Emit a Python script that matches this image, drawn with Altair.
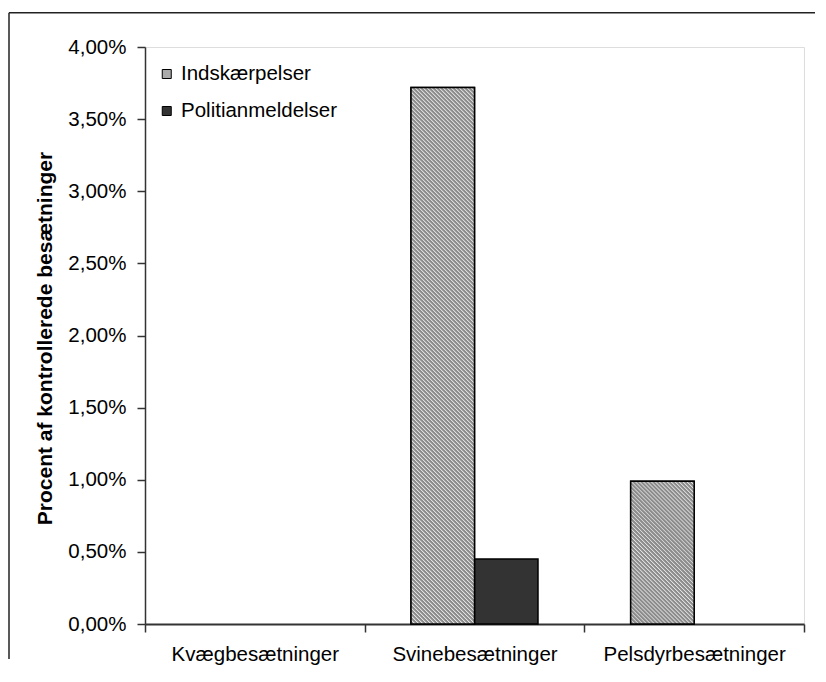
import altair as alt
import pandas as pd

# ---- data ----
categories = ["Kvægbesætninger", "Svinebesætninger", "Pelsdyrbesætninger"]
series = ["Indskærpelser", "Politianmeldelser"]
indskaerpelser = [0.0, 0.0372, 0.0099]
politianmeldelser = [0.0, 0.0045, 0.0]
y_ticks = [0.0, 0.005, 0.01, 0.015, 0.02, 0.025, 0.03, 0.035, 0.04]
y_title = "Procent af kontrollerede besætninger"

rows = []
for i, c in enumerate(categories):
    rows.append({"kategori": c, "serie": series[0], "andel": indskaerpelser[i]})
    rows.append({"kategori": c, "serie": series[1], "andel": politianmeldelser[i]})
df = pd.DataFrame(rows)

# ---- layout / style ----
FONT = "Liberation Sans"
W, H = 659, 577
YMAX = 0.04
OUTER_PAD = 0.73
BAR_W = (W / len(categories)) / (len(series) + 2 * OUTER_PAD)
AX = "#333333"


def hatch(value, period=4.0, light="#e4e4e4", dark="#8c8c8c"):
    """Diagonal '\\' stripes as a soft linear gradient in bounding-box units."""
    w = BAR_W
    h = value / YMAX * H
    r = h / w
    a = (1 + r) / (1 + r * r)
    n = max(1, round((w + h) / period))
    stops = []
    for k in range(n):
        stops += [
            {"offset": k / n, "color": light},
            {"offset": (k + 0.35) / n, "color": dark},
            {"offset": (k + 0.8) / n, "color": dark},
        ]
    stops.append({"offset": 1, "color": light})
    return {"gradient": "linear", "x1": 0, "y1": 1, "x2": a, "y2": 1 - a * r, "stops": stops}


x_enc = alt.X(
    "kategori:N",
    sort=categories,
    scale=alt.Scale(domain=categories, paddingInner=0, paddingOuter=0),
    axis=alt.Axis(
        title=None, labelAngle=0, tickBand="extent", tickSize=8, tickWidth=1.5,
        tickColor=AX, domainColor=AX, domainWidth=2, labelPadding=12, labelLimit=400,
        labelFont=FONT, labelFontSize=20.5, labelColor="black", grid=False,
    ),
)
xo_enc = alt.XOffset(
    "serie:N", sort=series,
    scale=alt.Scale(domain=series, paddingInner=0, paddingOuter=OUTER_PAD),
)
y_enc = alt.Y(
    "andel:Q",
    scale=alt.Scale(domain=[0, YMAX], nice=False, zero=True),
    axis=alt.Axis(
        values=y_ticks,
        labelExpr="replace(format(datum.value, '.2%'), '.', ',')",
        title=y_title, titleFont=FONT, titleFontSize=21, titleFontWeight="bold",
        titleColor="black", titleAngle=-90, titleAlign="center",
        titleBaseline="alphabetic", titleX=-94, titleY=291,
        tickSize=8, tickWidth=1.5, tickColor=AX, domainColor=AX, domainWidth=1.5,
        labelPadding=11, labelFont=FONT, labelFontSize=20.5, labelColor="black",
        grid=False,
    ),
)

bars = (
    alt.Chart(df)
    .transform_filter(alt.datum.andel > 0)
    .mark_bar(stroke="black", strokeWidth=1.5)
    .encode(
        x=x_enc,
        xOffset=xo_enc,
        y=y_enc,
        color=alt.Color(
            "serie:N",
            scale=alt.Scale(domain=series, range=["#ababab", "#333333"]),
            legend=alt.Legend(
                title=None, orient="none", legendX=11.5, legendY=16.75, padding=0,
                symbolType="square", symbolSize=81, symbolStrokeColor="black",
                symbolStrokeWidth=1, symbolOpacity=1, labelFont=FONT, labelFontSize=20.5,
                labelColor="black", labelOffset=4, rowPadding=16,
            ),
        ),
    )
)

layers = []
frame_df = pd.DataFrame({"k": [0]})
left_line = alt.Chart(frame_df).mark_rule(color="#222222", strokeWidth=1.5).encode(
    x=alt.value(-136), y=alt.value(-34.3), y2=alt.value(612)
)
top_line = alt.Chart(frame_df).mark_rule(color="#222222", strokeWidth=1.5).encode(
    x=alt.value(-136), x2=alt.value(670), y=alt.value(-34.3)
)
layers += [left_line, top_line, bars]

for c, v in zip(categories, indskaerpelser):
    if v > 0:
        layers.append(
            alt.Chart(df)
            .transform_filter((alt.datum.kategori == c) & (alt.datum.serie == series[0]))
            .mark_bar(stroke="black", strokeWidth=1.5)
            .encode(x=x_enc, xOffset=xo_enc, y=y_enc, fill=alt.value(hatch(v)))
        )

chart = (
    alt.layer(*layers)
    .properties(width=W, height=H, padding={"left": 0, "top": 3, "right": 0, "bottom": 0})
    .configure_view(stroke="#8c8c8c", strokeWidth=1.5)
    .configure(background="white")
)

chart.save("out.html", embed_options={"renderer": "svg", "actions": False})
